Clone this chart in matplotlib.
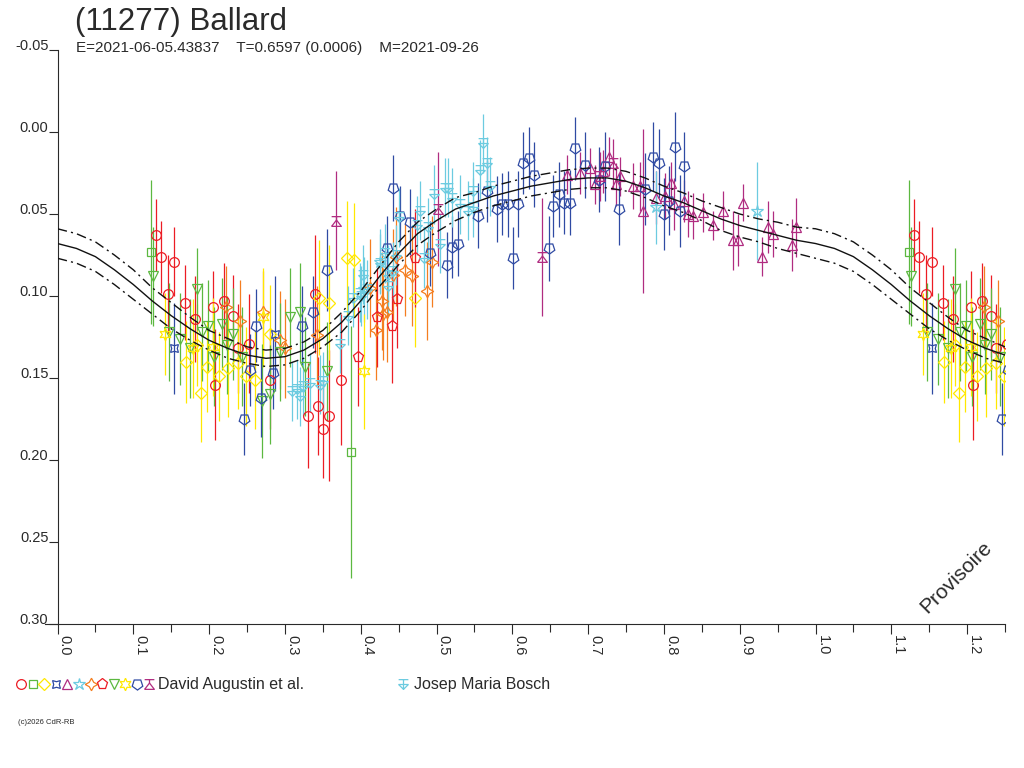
import matplotlib

matplotlib.use("Agg")
import matplotlib.pyplot as plt
import numpy as np
from matplotlib.path import Path
from matplotlib.ticker import FixedLocator, MultipleLocator

# --- fitted Fourier curve, every 0.025 in phase ---
fit_phase = [0.000, 0.025, 0.050, 0.075, 0.100, 0.125, 0.150, 0.175, 0.200, 0.225,
             0.250, 0.275, 0.300, 0.325, 0.350, 0.375, 0.400, 0.425, 0.450, 0.475,
             0.500, 0.525, 0.550, 0.575, 0.600, 0.625, 0.650, 0.675, 0.700, 0.725,
             0.750, 0.775, 0.800, 0.825, 0.850, 0.875, 0.900, 0.925, 0.950, 0.975, 1.000]
fit_mag = [0.068, 0.071, 0.076, 0.084, 0.093, 0.103, 0.112, 0.120, 0.127, 0.132,
           0.136, 0.138, 0.137, 0.133, 0.126, 0.116, 0.103, 0.088, 0.074, 0.062,
           0.054, 0.047, 0.043, 0.039, 0.036, 0.033, 0.031, 0.029, 0.028, 0.028,
           0.030, 0.034, 0.039, 0.043, 0.048, 0.053, 0.057, 0.060, 0.063, 0.066, 0.068]
fit_band = [0.009, 0.009, 0.009, 0.009, 0.009, 0.008, 0.008, 0.007, 0.006, 0.006,
            0.005, 0.005, 0.005, 0.005, 0.005, 0.006, 0.006, 0.006, 0.007, 0.007,
            0.007, 0.007, 0.006, 0.006, 0.006, 0.006, 0.006, 0.006, 0.006, 0.006,
            0.006, 0.006, 0.006, 0.006, 0.006, 0.007, 0.007, 0.007, 0.008, 0.008, 0.009]

# --- David Augustin et al. sessions (phase, reduced mag, error) ---
s1_phase = [0.130, 0.137, 0.146, 0.154, 0.168, 0.181, 0.205, 0.208, 0.220, 0.232,
            0.238, 0.253, 0.280, 0.340, 0.374, 0.330, 0.344, 0.358, 0.350]
s1_mag = [0.063, 0.076, 0.099, 0.079, 0.104, 0.114, 0.107, 0.154, 0.103, 0.112,
          0.132, 0.129, 0.151, 0.099, 0.151, 0.173, 0.167, 0.173, 0.181]
s1_err = [0.022, 0.022, 0.024, 0.021, 0.023, 0.026, 0.022, 0.034, 0.023, 0.025,
          0.027, 0.030, 0.030, 0.036, 0.040, 0.032, 0.030, 0.040, 0.030]

s2_phase = [0.123, 0.387]
s2_mag = [0.073, 0.195]
s2_err = [0.044, 0.077]

s3_phase = [0.169, 0.184, 0.189, 0.197, 0.213, 0.225, 0.238, 0.249, 0.260, 0.281,
            0.345, 0.358, 0.382, 0.391, 0.472]
s3_mag = [0.140, 0.130, 0.159, 0.143, 0.149, 0.144, 0.141, 0.149, 0.151, 0.123,
          0.101, 0.104, 0.077, 0.078, 0.101]
s3_err = [0.025, 0.025, 0.030, 0.028, 0.027, 0.030, 0.028, 0.030, 0.030, 0.030,
          0.035, 0.035, 0.035, 0.035, 0.030]

s4_phase = [0.154, 0.287]
s4_mag = [0.132, 0.123]
s4_err = [0.028, 0.035]

s5_phase = [0.672, 0.689, 0.702, 0.709, 0.720, 0.728, 0.737, 0.742, 0.759, 0.769,
            0.773, 0.790, 0.802, 0.809, 0.813, 0.826, 0.832, 0.839, 0.852, 0.865,
            0.878, 0.891, 0.898, 0.904, 0.929, 0.937, 0.944, 0.969, 0.974]
s5_mag = [0.026, 0.025, 0.022, 0.032, 0.024, 0.015, 0.032, 0.027, 0.033, 0.033,
          0.048, 0.040, 0.039, 0.031, 0.044, 0.042, 0.050, 0.051, 0.049, 0.057,
          0.048, 0.066, 0.066, 0.043, 0.076, 0.058, 0.062, 0.069, 0.058]
s5_err = [0.012, 0.013, 0.012, 0.012, 0.013, 0.012, 0.013, 0.012, 0.014, 0.015,
          0.050, 0.016, 0.014, 0.013, 0.016, 0.013, 0.014, 0.014, 0.012, 0.009,
          0.012, 0.018, 0.016, 0.011, 0.012, 0.016, 0.014, 0.016, 0.018]

s6_phase = [0.405, 0.425, 0.789, 0.923]
s6_mag = [0.096, 0.079, 0.046, 0.048]
s6_err = [0.020, 0.020, 0.022, 0.030]

s7_phase = [0.222, 0.241, 0.271, 0.294, 0.300, 0.342, 0.412, 0.420, 0.428, 0.430,
            0.435, 0.443, 0.446, 0.459, 0.468, 0.487, 0.494]
s7_mag = [0.107, 0.115, 0.110, 0.127, 0.132, 0.124, 0.095, 0.121, 0.103, 0.111,
          0.110, 0.087, 0.076, 0.084, 0.088, 0.097, 0.079]
s7_err = [0.025, 0.025, 0.025, 0.030, 0.030, 0.030, 0.030, 0.030, 0.030, 0.028,
          0.030, 0.028, 0.030, 0.028, 0.030, 0.030, 0.028]

s8_phase = [0.397, 0.422, 0.441, 0.448, 0.472]
s8_mag = [0.137, 0.113, 0.118, 0.102, 0.077]
s8_err = [0.030, 0.030, 0.035, 0.030, 0.030]

s9_phase = [0.126, 0.147, 0.161, 0.175, 0.184, 0.191, 0.199, 0.207, 0.217, 0.223,
            0.231, 0.243, 0.270, 0.281, 0.294, 0.307, 0.320, 0.327, 0.355]
s9_mag = [0.088, 0.122, 0.126, 0.132, 0.096, 0.122, 0.118, 0.137, 0.117, 0.130,
          0.123, 0.137, 0.164, 0.160, 0.134, 0.113, 0.110, 0.143, 0.146]
s9_err = [0.030, 0.030, 0.028, 0.030, 0.025, 0.030, 0.028, 0.030, 0.028, 0.030,
          0.028, 0.030, 0.035, 0.030, 0.030, 0.030, 0.030, 0.030, 0.030]

s10_phase = [0.142, 0.179, 0.205, 0.271, 0.404]
s10_mag = [0.123, 0.132, 0.131, 0.113, 0.146]
s10_err = [0.025, 0.030, 0.030, 0.030, 0.035]

s11_phase = [0.246, 0.254, 0.262, 0.269, 0.284, 0.322, 0.337, 0.355, 0.435, 0.443,
             0.452, 0.465, 0.492, 0.514, 0.520, 0.528, 0.555, 0.566, 0.580, 0.587,
             0.594, 0.601, 0.607, 0.614, 0.622, 0.628, 0.648, 0.654, 0.662, 0.668,
             0.676, 0.683, 0.696, 0.714, 0.722, 0.741, 0.775, 0.786, 0.793, 0.800,
             0.807, 0.814, 0.821, 0.827]
s11_mag = [0.175, 0.145, 0.118, 0.162, 0.147, 0.118, 0.110, 0.084, 0.071, 0.034,
           0.051, 0.055, 0.074, 0.081, 0.070, 0.068, 0.051, 0.036, 0.047, 0.044,
           0.044, 0.077, 0.044, 0.019, 0.016, 0.026, 0.071, 0.045, 0.038, 0.043,
           0.043, 0.010, 0.020, 0.029, 0.021, 0.047, 0.035, 0.015, 0.019, 0.050,
           0.042, 0.009, 0.048, 0.021]
s11_err = [0.022, 0.022, 0.022, 0.024, 0.022, 0.024, 0.022, 0.025, 0.020, 0.020,
           0.018, 0.020, 0.020, 0.020, 0.019, 0.020, 0.020, 0.019, 0.020, 0.019,
           0.020, 0.019, 0.020, 0.019, 0.019, 0.020, 0.020, 0.019, 0.020, 0.019,
           0.020, 0.019, 0.020, 0.020, 0.021, 0.022, 0.022, 0.021, 0.021, 0.022,
           0.021, 0.021, 0.022, 0.021]

s12_phase = [0.367, 0.502, 0.639, 0.716, 0.733]
s12_mag = [0.054, 0.047, 0.076, 0.027, 0.019]
s12_err = [0.030, 0.035, 0.036, 0.015, 0.015]

# --- Josep Maria Bosch ---
jmb_phase = [0.309, 0.316, 0.320, 0.324, 0.333, 0.346, 0.350, 0.373, 0.383, 0.390,
             0.399, 0.401, 0.403, 0.408, 0.425, 0.432, 0.436, 0.436, 0.443, 0.447,
             0.451, 0.474, 0.478, 0.483, 0.489, 0.497, 0.504, 0.511, 0.515, 0.520,
             0.531, 0.541, 0.548, 0.548, 0.557, 0.561, 0.566, 0.570]
jmb_mag = [0.158, 0.157, 0.161, 0.155, 0.153, 0.154, 0.152, 0.129, 0.112, 0.101,
           0.098, 0.100, 0.087, 0.096, 0.080, 0.074, 0.087, 0.094, 0.085, 0.075,
           0.052, 0.057, 0.048, 0.077, 0.058, 0.038, 0.068, 0.034, 0.034, 0.040,
           0.044, 0.048, 0.036, 0.046, 0.023, 0.007, 0.019, 0.033]
jmb_err = [0.018, 0.018, 0.018, 0.018, 0.018, 0.018, 0.018, 0.018, 0.018, 0.018,
           0.018, 0.018, 0.018, 0.018, 0.018, 0.018, 0.018, 0.018, 0.018, 0.018,
           0.018, 0.018, 0.018, 0.018, 0.018, 0.018, 0.018, 0.018, 0.018, 0.018,
           0.018, 0.018, 0.018, 0.018, 0.018, 0.018, 0.016, 0.018]

RED = "#ec1c24"
GREEN = "#5cb840"
YELLOW = "#ffe800"
BLUE = "#2f4aa3"
MAGENTA = "#b02c80"
CYAN = "#6ccbe0"
ORANGE = "#f47e20"

# odd symbols of the original software, made as marker paths
M = Path.MOVETO
L = Path.LINETO
FLASK = Path(
    [(-0.5, -0.5), (0.5, -0.5), (0.0, 0.15), (-0.5, -0.5),
     (0.0, 0.15), (0.0, 0.5), (-0.5, 0.5), (0.5, 0.5)],
    [M, L, L, L, M, L, M, L],
)
TRI_BAR = Path(
    [(-0.5, 0.5), (0.5, 0.5), (0.0, 0.5), (0.0, -0.5),
     (-0.5, 0.0), (0.0, -0.5), (0.5, 0.0), (-0.5, 0.0), (0.5, 0.0)],
    [M, L, M, L, M, L, L, M, L],
)


def main() -> None:
    plt.rcParams["font.family"] = ["Liberation Sans", "DejaVu Sans"]
    ink = "#2a2a2a"

    fig = plt.figure(figsize=(10.24, 7.68), dpi=100)
    ax = fig.add_axes([57.5 / 1024, 144 / 768, (1005 - 57.5) / 1024, (624 - 50) / 768])

    sessions = [
        (s1_phase, s1_mag, s1_err, "o", RED, 7),
        (s2_phase, s2_mag, s2_err, "s", GREEN, 6),
        (s3_phase, s3_mag, s3_err, "D", YELLOW, 6),
        (s4_phase, s4_mag, s4_err, (4, 1, 45), BLUE, 8),
        (s5_phase, s5_mag, s5_err, "^", MAGENTA, 7),
        (s6_phase, s6_mag, s6_err, "*", CYAN, 9),
        (s7_phase, s7_mag, s7_err, (4, 1, 0), ORANGE, 9),
        (s8_phase, s8_mag, s8_err, "p", RED, 8),
        (s9_phase, s9_mag, s9_err, "v", GREEN, 7),
        (s10_phase, s10_mag, s10_err, (6, 1, 0), YELLOW, 9),
        (s11_phase, s11_mag, s11_err, (5, 0, 180), BLUE, 8),
        (s12_phase, s12_mag, s12_err, FLASK, MAGENTA, 7),
        (jmb_phase, jmb_mag, jmb_err, TRI_BAR, CYAN, 7),
    ]
    for ph, mg, er, mk, col, size in sessions:
        ph = np.asarray(ph)
        x = np.concatenate([ph, ph + 1.0])
        y = np.concatenate([mg, mg])
        e = np.concatenate([er, er])
        ax.errorbar(x, y, yerr=e, marker=mk, linestyle="none", ms=size,
                    mfc="none", mec=col, mew=0.9, ecolor=col, elinewidth=0.9,
                    capsize=0, zorder=2)

    fp = np.asarray(fit_phase)
    fx = np.concatenate([fp, fp[1:] + 1.0])
    fy = np.concatenate([fit_mag, fit_mag[1:]])
    fb = np.concatenate([fit_band, fit_band[1:]])
    ax.plot(fx, fy, color="#111111", lw=1.0, zorder=4)
    ax.plot(fx, fy - fb, color="#111111", lw=1.0, ls=(0, (7, 3, 1.5, 3)), zorder=4)
    ax.plot(fx, fy + fb, color="#111111", lw=1.0, ls=(0, (7, 3, 1.5, 3)), zorder=4)

    ax.set_xlim(0, 1.25)
    ax.set_ylim(0.30, -0.05)
    for side in ("top", "right"):
        ax.spines[side].set_visible(False)
    for side in ("left", "bottom"):
        ax.spines[side].set_linewidth(0.8)
        ax.spines[side].set_color(ink)
    ax.spines["bottom"].set_bounds(-0.016, 1.25)

    xt = np.round(np.arange(0, 1.21, 0.1), 2)
    ax.xaxis.set_major_locator(FixedLocator(xt))
    ax.xaxis.set_minor_locator(MultipleLocator(0.05))
    ax.set_xticklabels([f"{v:.1f}" for v in xt])
    yt = np.round(np.arange(-0.05, 0.301, 0.05), 2)
    ax.yaxis.set_major_locator(FixedLocator(yt))
    ax.set_yticklabels([f"{v:.2f}" for v in yt])

    ax.tick_params(axis="x", which="major", length=7, width=0.8, color=ink,
                   labelsize=10.5, labelcolor=ink, labelrotation=-90, pad=1)
    ax.tick_params(axis="x", which="minor", length=6, width=0.8, color=ink)
    ax.tick_params(axis="y", which="major", length=6.5, width=0.8, color=ink,
                   labelsize=10.5, labelcolor=ink, pad=0)
    for tl in ax.get_xticklabels():
        tl.set_ha("left")
        tl.set_va("top")
    for tl in ax.get_yticklabels():
        tl.set_va("baseline")

    fig.text(75 / 1024, 1 - 22 / 768, "(11277) Ballard", fontsize=22.5,
             color=ink, va="center", ha="left")
    fig.text(76 / 1024, 1 - 48 / 768,
             "E=2021-06-05.43837    T=0.6597 (0.0006)    M=2021-09-26",
             fontsize=11, color=ink, va="center", ha="left")
    fig.text(956 / 1024, 1 - 577 / 768, "Provisoire", fontsize=15, rotation=45,
             color=ink, ha="center", va="center")
    fig.text(18 / 1024, 1 - 722 / 768, "(c)2026 CdR-RB", fontsize=5.5,
             color=ink, ha="left", va="center")

    # legend row drawn in pixel coordinates
    lg = fig.add_axes([0, 0, 1, 1])
    lg.set_xlim(0, 1024)
    lg.set_ylim(768, 0)
    lg.axis("off")
    for i, (_, _, _, mk, col, size) in enumerate(sessions[:12]):
        lg.plot(21 + i * 11.6, 684, marker=mk, ms=size, mfc="none", mec=col, mew=0.9)
    lg.text(158, 684, "David Augustin et al.", fontsize=11.5, color=ink,
            ha="left", va="center")
    lg.plot(403, 684, marker=TRI_BAR, ms=7, mfc="none", mec=CYAN, mew=0.9)
    lg.text(414, 684, "Josep Maria Bosch", fontsize=11.5, color=ink,
            ha="left", va="center")

    fig.savefig("out.png", dpi=100)
    plt.close(fig)


if __name__ == "__main__":
    main()
